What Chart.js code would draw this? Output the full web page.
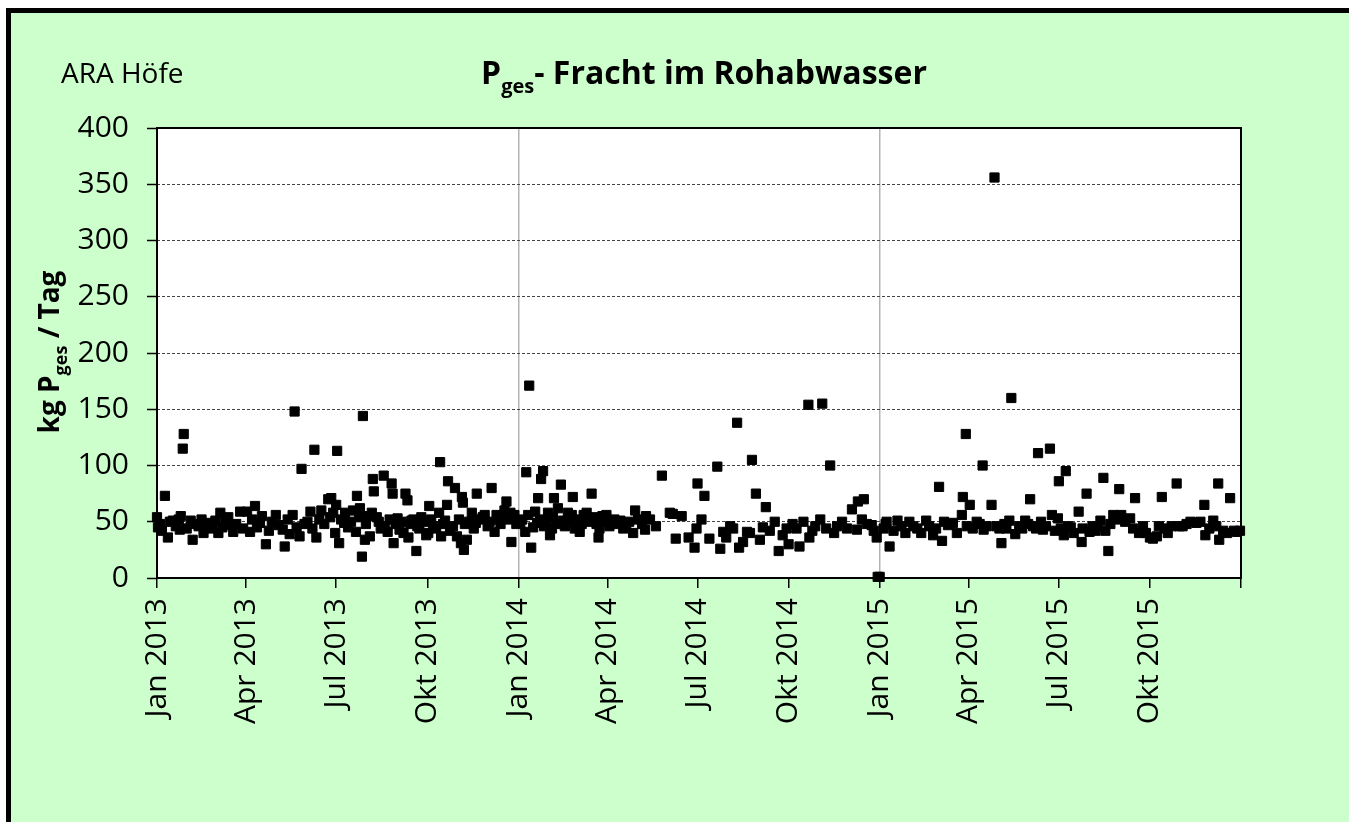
<!DOCTYPE html>
<html>
<head>
<meta charset="utf-8">
<script src="https://cdn.jsdelivr.net/npm/chart.js@4.4.0/dist/chart.umd.min.js"></script>
<style>
  body { margin: 0; background: #fff; overflow: hidden; }
  #frame { position: absolute; left: 6px; top: 8px; width: 1400px; height: 900px; border: 5px solid #000; background: #ccffcc; }
  #wrap { position: absolute; left: 0; top: 0; width: 1349px; height: 822px; }
</style>
</head>
<body>
<div id="frame"></div>
<div id="wrap"><canvas id="chart" width="1349" height="822"></canvas></div>
<script>
// x = days since 1 Jan 2013, y = kg Pges / Tag
const points2013 = [
  [0,54],[1,45],[3,48],[5,42],[8,73],[11,36],[13,50],[16,51],[19,46],[22,52],[23,43],[24,55],[26,115],[27,128],
  [30,44],[34,51],[36,34],[38,48],[42,46],[45,52],[47,40],[50,49],[53,44],[56,47],[59,51],[62,40],[64,58],[66,45],
  [69,50],[72,54],[74,47],[77,41],[80,48],[84,59],[87,44],[91,59],[94,41],[96,52],[99,64],[101,45],[104,49],[106,55],
  [110,30],[113,42],[116,50],[120,56],[123,47],[127,43],[129,28],[132,52],[134,39],[137,56],[139,148],[141,45],[144,37],
  [146,97],[149,48],[152,50],[155,59],[157,44],[159,114],[161,36],[164,52],[166,60],[169,48],[173,70],[175,54],[176,71],
  [178,58],[180,40],[181,65],[182,113],[184,31],[186,52],[189,49],[190,58],[193,45],[196,50],[198,60],[201,41],[202,73],
  [204,54],[205,62],[207,19],[208,144],[210,34],[211,48],[213,55],[215,37],[217,58],[218,88],[219,77],[222,54],[224,50],
  [226,44],[229,91],[230,46],[233,41],[235,52],[237,84],[238,75],[239,31],[241,48],[243,53],[245,43],[247,50],[249,40],
  [251,75],[253,69],[254,36],[256,48],[257,51],[259,52],[262,24],[263,46],[265,44],[267,54],[270,50],[272,38],[274,40],
  [275,64],[277,52],[279,46],[282,44],[285,58],[286,103],[287,37],[289,48],[291,51],[293,65],[294,86],[296,42],[299,46],
  [301,80],[303,37],[305,52],[307,31],[308,72],[309,67],[310,25],[311,48],[313,34],[315,50],[318,58],[320,44],[322,49],
  [323,75],[326,52],[329,54],[331,56],[334,46],[336,50],[338,80],[341,41],[343,56],[345,52],[347,48],[349,54],[351,60],
  [353,68],[355,52],[357,58],[358,32],[360,54],[361,56],[363,48]
];
const points2014 = [
  [365,49],[367,49],[369,52],[372,41],[373,94],[375,56],[376,171],[378,27],[380,45],[382,59],[384,49],[385,71],[387,52],
  [388,88],[390,95],[391,46],[393,50],[395,58],[397,38],[399,44],[400,54],[401,71],[403,48],[405,62],[408,83],[410,51],
  [412,46],[415,58],[417,50],[419,56],[420,72],[422,44],[425,52],[427,41],[429,48],[431,56],[434,58],[437,50],[439,75],
  [442,54],[444,48],[446,36],[447,44],[450,55],[452,50],[454,56],[457,46],[459,51],[462,52],[465,48],[468,51],[471,44],
  [474,46],[477,50],[481,40],[483,60],[486,52],[490,48],[493,43],[494,55],[498,52],[504,46],[510,91],[518,58],[521,57],
  [524,35],[530,55],[537,36],[543,27],[545,44],[546,84],[550,52],[553,73],[558,35],[566,99],[569,26],[572,41],[575,36],
  [579,46],[582,44],[586,138],[588,27],[592,32],[596,41],[599,40],[601,105],[605,75],[609,34],[612,45],[615,63],[619,42],
  [624,50],[628,24],[632,38],[636,44],[638,30],[642,48],[646,44],[649,28],[653,50],[658,154],[659,36],[662,42],[665,46],
  [670,52],[672,155],[676,44],[680,100],[684,40],[687,46],[692,50],[697,44],[702,61],[707,43],[708,68],[712,52],[714,70],
  [717,48],[722,47],[724,42],[727,36],[728,1]
];
const points2015 = [
  [730,1],[734,44],[736,48],[737,50],[740,28],[744,42],[748,51],[752,46],[756,40],[760,50],[764,46],[768,44],[772,40],
  [777,51],[780,46],[784,38],[787,44],[790,81],[793,33],[795,50],[799,47],[804,49],[808,40],[813,56],[814,72],[817,128],
  [818,46],[821,65],[824,44],[828,50],[831,48],[834,100],[835,43],[838,46],[843,65],[846,356],[848,46],[851,44],[853,31],
  [856,48],[858,44],[861,51],[863,160],[867,39],[871,46],[874,44],[877,51],[880,48],[882,70],[885,46],[888,44],[890,111],
  [893,50],[895,43],[898,46],[902,115],[904,56],[907,42],[910,53],[911,86],[913,44],[916,38],[918,95],[920,46],[923,45],
  [926,40],[931,59],[934,32],[935,44],[939,75],[942,41],[945,46],[948,42],[950,46],[953,51],[956,89],[958,42],[961,24],
  [963,48],[966,56],[969,52],[972,79],[974,56],[978,50],[983,53],[986,44],[988,71],[992,40],[996,46],[999,40],[1003,36],
  [1006,35],[1010,37],[1012,46],[1015,72],[1018,44],[1021,40],[1025,46],[1030,84],[1033,46],[1036,46],[1040,48],[1044,50],
  [1050,49],[1054,50],[1058,65],[1059,38],[1063,44],[1067,51],[1070,46],[1072,84],[1073,34],[1077,42],[1081,40],[1084,71],
  [1088,42],[1091,41],[1094,42]
];
const tickDays = [0, 90, 181, 273, 365, 455, 546, 638, 730, 820, 911, 1003, 1095];
const tickLabels = ['Jan 2013', 'Apr 2013', 'Jul 2013', 'Okt 2013', 'Jan 2014', 'Apr 2014', 'Jul 2014',
  'Okt 2014', 'Jan 2015', 'Apr 2015', 'Jul 2015', 'Okt 2015', ''];
const yearLines = [365, 730];

const FONT = "'Open Sans', 'DejaVu Sans', sans-serif";
Chart.defaults.font.family = FONT;
Chart.defaults.color = '#000';

function drawRich(ctx, x, y, parts, angle) {
  ctx.save();
  ctx.translate(x, y);
  ctx.rotate(angle || 0);
  ctx.textBaseline = 'alphabetic';
  ctx.textAlign = 'left';
  let total = 0;
  for (const p of parts) { ctx.font = p.font; total += ctx.measureText(p.text).width; }
  let cx = -total / 2;
  for (const p of parts) {
    ctx.font = p.font;
    ctx.fillStyle = '#000';
    ctx.fillText(p.text, cx, p.dy || 0);
    cx += ctx.measureText(p.text).width;
  }
  ctx.restore();
}

const decorations = {
  id: 'decorations',
  beforeDraw(chart) {
    const {ctx, chartArea: a} = chart;
    ctx.save();
    ctx.fillStyle = '#fff';
    ctx.fillRect(a.left, a.top, a.right - a.left, a.bottom - a.top);
    ctx.restore();
  },
  beforeDatasetsDraw(chart) {
    const {ctx, chartArea: a} = chart;
    ctx.save();
    ctx.strokeStyle = '#000';
    ctx.lineWidth = 2;
    ctx.strokeRect(a.left, a.top, a.right - a.left, a.bottom - a.top);
    ctx.restore();
  },
  afterDraw(chart) {
    const ctx = chart.ctx;
    drawRich(ctx, 704, 84, [
      {text: 'P', font: `bold 32px ${FONT}`},
      {text: 'ges', font: `bold 20px ${FONT}`, dy: 9},
      {text: '- Fracht im Rohabwasser', font: `bold 32px ${FONT}`}
    ]);
    ctx.save();
    ctx.font = `28px ${FONT}`;
    ctx.fillStyle = '#000';
    ctx.fillText('ARA Höfe', 61, 83);
    ctx.restore();
    drawRich(ctx, 59, 352, [
      {text: 'kg P', font: `bold 28px ${FONT}`},
      {text: 'ges', font: `bold 18px ${FONT}`, dy: 8},
      {text: ' / Tag', font: `bold 28px ${FONT}`}
    ], -Math.PI / 2);
  }
};

new Chart(document.getElementById('chart'), {
  type: 'scatter',
  data: {
    datasets: [{
      data: points2013.concat(points2014, points2015).map(p => ({x: p[0], y: p[1]})),
      pointStyle: 'rect',
      pointRadius: 6.5,
      backgroundColor: '#000',
      borderColor: '#000',
      borderWidth: 1,
      clip: false
    }]
  },
  options: {
    responsive: false,
    animation: false,
    events: [],
    layout: { padding: { top: 128, right: 108, bottom: 0, left: 0 } },
    plugins: { legend: { display: false }, tooltip: { enabled: false } },
    scales: {
      x: {
        type: 'linear',
        min: 0,
        max: 1095,
        afterFit: s => { s.height = 244; },
        afterBuildTicks: s => { s.ticks = tickDays.map(v => ({value: v})); },
        border: { display: false },
        grid: {
          color: c => (c.tick && yearLines.includes(c.tick.value)) ? '#b4b4b4' : 'rgba(0,0,0,0)',
          lineWidth: 1.5,
          tickColor: '#000',
          tickLength: 10,
          tickWidth: 1.5
        },
        ticks: {
          autoSkip: false,
          minRotation: 90,
          maxRotation: 90,
          padding: 10,
          font: { size: 30 },
          callback: v => tickLabels[tickDays.indexOf(v)] || ''
        }
      },
      y: {
        min: 0,
        max: 400,
        afterFit: s => { s.width = 157; },
        border: { display: false, dash: [3, 2] },
        grid: {
          color: c => (c.tick && (c.tick.value === 0 || c.tick.value === 400)) ? 'rgba(0,0,0,0)' : '#444',
          lineWidth: 1,
          tickColor: '#000',
          tickLength: 10,
          tickWidth: 1.5,
          tickBorderDash: []
        },
        ticks: {
          stepSize: 50,
          padding: 18,
          font: { size: 30 }
        }
      }
    }
  },
  plugins: [decorations]
});
</script>
</body>
</html>
